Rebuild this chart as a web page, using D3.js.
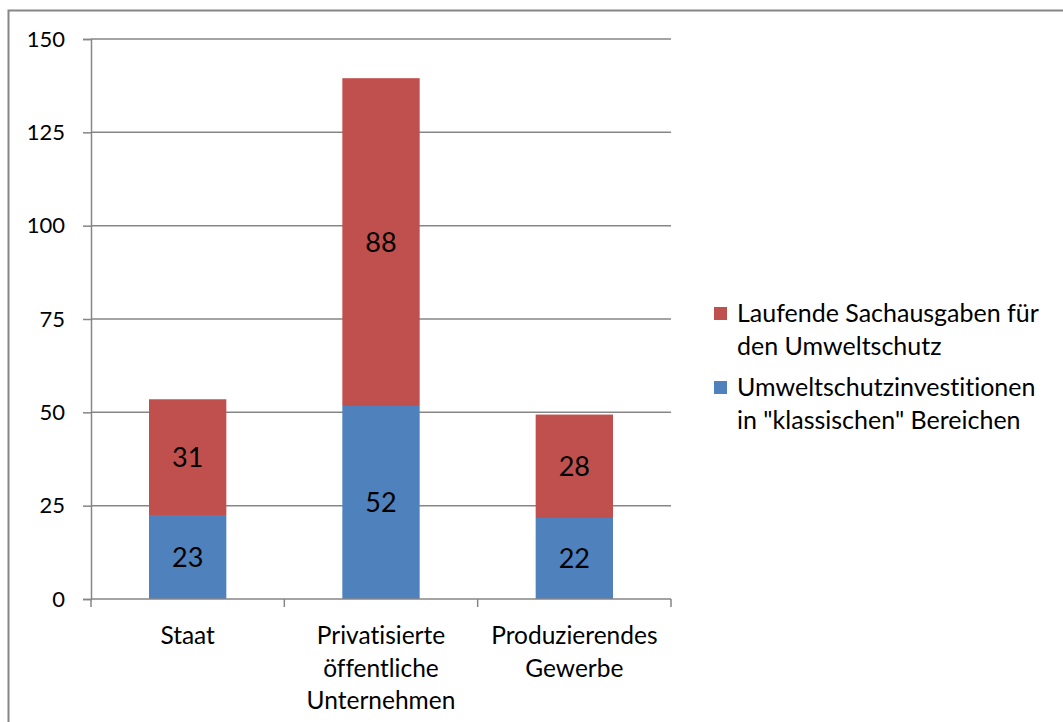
<!DOCTYPE html>
<html lang="de">
<head>
<meta charset="UTF-8">
<title>Umweltschutzausgaben</title>
<script src="https://cdnjs.cloudflare.com/ajax/libs/d3/7.8.5/d3.min.js"></script>
<style>
  body { margin: 0; background: #fff; }
  svg { display: block; font-family: Lato, "Open Sans", sans-serif; font-variant-ligatures: none; }
  .tick-label { font-size: 22px; fill: #000; }
  .cat-label { font-size: 24.5px; fill: #000; }
  .value-label { font-size: 27px; fill: #000; }
  .legend-label { font-size: 25px; fill: #000; }
</style>
</head>
<body>
<svg id="chart" width="1063" height="722"></svg>
<script>
// chart data
const categories = [["Staat"], ["Privatisierte", "öffentliche", "Unternehmen"], ["Produzierendes", "Gewerbe"]];
const investitionen = [22.5, 51.7, 21.7];   // blue, bottom
const sachausgaben = [31.0, 87.8, 27.7];    // red, top
const yTicks = [0, 25, 50, 75, 100, 125, 150];
const seriesNames = [
  ["Laufende Sachausgaben für", "den Umweltschutz"],
  ["Umweltschutzinvestitionen", "in \"klassischen\" Bereichen"]
];

const blue = "#4F81BD", red = "#C0504D", grey = "#868686";

const svg = d3.select("#chart");
const plotL = 91, plotR = 671, plotT = 39, plotB = 599;

// outer frame
svg.append("rect")
  .attr("x", 8.5).attr("y", 10.5)
  .attr("width", 1070).attr("height", 730)
  .attr("fill", "none").attr("stroke", grey).attr("stroke-width", 2);

const x = d3.scaleBand().domain(d3.range(categories.length)).range([plotL, plotR]).padding(0);
const y = d3.scaleLinear().domain([0, 150]).range([plotB, plotT]);
const barW = x.bandwidth() * 0.4;

// gridlines
svg.append("g").selectAll("line").data(yTicks.filter(d => d > 0)).join("line")
  .attr("x1", plotL).attr("x2", plotR)
  .attr("y1", d => y(d)).attr("y2", d => y(d))
  .attr("stroke", grey).attr("stroke-width", 1.5);

// y axis
const yAxis = svg.append("g").attr("transform", `translate(${plotL},0)`)
  .call(d3.axisLeft(y).tickValues(yTicks).tickSize(8).tickPadding(18));
yAxis.select(".domain").attr("stroke", grey).attr("stroke-width", 1.5);
yAxis.selectAll(".tick line").attr("stroke", grey).attr("stroke-width", 1.5);
yAxis.selectAll(".tick text").attr("class", "tick-label");
yAxis.attr("font-size", null).attr("font-family", null);

// bars
const stacks = [investitionen, sachausgaben];
const colors = [blue, red];
categories.forEach((c, i) => {
  let base = 0;
  stacks.forEach((s, k) => {
    const v = s[i];
    const cx = x(i) + x.bandwidth() / 2;
    svg.append("rect")
      .attr("x", cx - barW / 2).attr("width", barW)
      .attr("y", y(base + v)).attr("height", y(base) - y(base + v))
      .attr("fill", colors[k]);
    svg.append("text").attr("class", "value-label")
      .attr("x", cx).attr("y", y(base + v / 2))
      .attr("text-anchor", "middle").attr("dy", "0.36em")
      .text(Math.round(v));
    base += v;
  });
});

// x axis
svg.append("line").attr("x1", plotL).attr("x2", plotR)
  .attr("y1", plotB).attr("y2", plotB)
  .attr("stroke", grey).attr("stroke-width", 1.5);
svg.append("g").selectAll("line").data(d3.range(categories.length + 1)).join("line")
  .attr("x1", d => plotL + d * x.step()).attr("x2", d => plotL + d * x.step())
  .attr("y1", plotB).attr("y2", plotB + 8)
  .attr("stroke", grey).attr("stroke-width", 1.5);

categories.forEach((lines, i) => {
  const t = svg.append("text").attr("class", "cat-label")
    .attr("text-anchor", "middle");
  lines.forEach((l, j) => {
    t.append("tspan").attr("x", x(i) + x.bandwidth() / 2)
      .attr("y", 644 + j * 32.5).text(l);
  });
});

// legend
const legendY = [313, 387];
seriesNames.forEach((lines, k) => {
  const col = k === 0 ? red : blue;
  svg.append("rect").attr("x", 714).attr("y", legendY[k] - 6)
    .attr("width", 13).attr("height", 13).attr("fill", col);
  const t = svg.append("text").attr("class", "legend-label");
  lines.forEach((l, j) => {
    t.append("tspan").attr("x", 737).attr("y", legendY[k] + 9 + j * 33).text(l);
  });
});
</script>
</body>
</html>
